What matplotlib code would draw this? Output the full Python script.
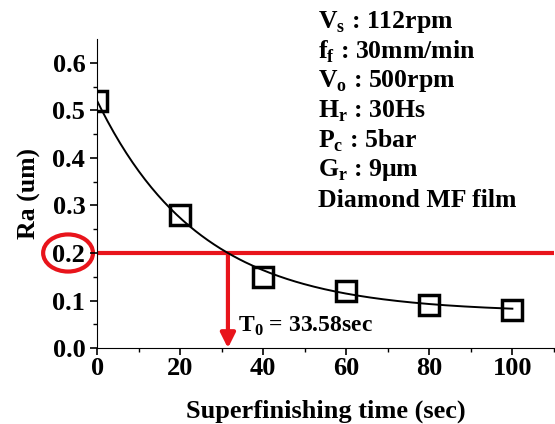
import numpy as np
import matplotlib
matplotlib.use("Agg")
import matplotlib.pyplot as plt
from matplotlib.patches import Ellipse

plt.rcParams['font.family'] = ['Liberation Serif', 'DejaVu Serif']
plt.rcParams['font.weight'] = 'bold'
RED = "#e8141b"

# data
t = [0, 20, 40, 60, 80, 100]
ra = [0.52, 0.28, 0.15, 0.12, 0.09, 0.08]
# exponential fit y = y0 + A*exp(-t/tau)
Y0, A, TAU = 0.075, 0.445, 24.8
RA_LIM = 0.2
T0 = 31.5
conds = [r"V$_\mathregular{s}$ : 112rpm", r"f$_\mathregular{f}$ : 30mm/min",
         r"V$_\mathregular{o}$ : 500rpm", r"H$_\mathregular{r}$ : 30Hs",
         r"P$_\mathregular{c}$ : 5bar", r"G$_\mathregular{r}$ : 9μm", "Diamond MF film"]

fig = plt.figure(figsize=(5.55, 4.24), dpi=100)
ax = fig.add_axes([0.175, 0.179, 0.823, 0.729])
tt = np.linspace(0, 100, 200)
ax.plot(tt, Y0 + A*np.exp(-tt/TAU), color='k', lw=1.4, zorder=3)
ax.plot(t, ra, ls='none', marker='s', ms=15, mfc='none', mec='k', mew=2.5, zorder=4)

ax.axhline(RA_LIM, color=RED, lw=3, zorder=2)
ax.annotate("", xy=(T0, 0.0), xytext=(T0, RA_LIM),
            arrowprops=dict(arrowstyle='-|>', color=RED, lw=3, mutation_scale=22,
                            shrinkA=0, shrinkB=0), zorder=2)
ax.text(T0+2.5, 0.045, r"T$_\mathregular{0}$ = 33.58sec", fontsize=17, fontweight='bold', va='center')

ax.set_xlim(0, 110); ax.set_ylim(0, 0.65)
ax.set_xticks([0, 20, 40, 60, 80, 100])
ax.set_xticks(np.arange(10, 111, 20), minor=True)
ax.set_yticks(np.arange(0, 0.61, 0.1))
ax.set_yticks(np.arange(0.05, 0.65, 0.1), minor=True)
ax.set_yticklabels([f"{v:.1f}" for v in np.arange(0, 0.61, 0.1)])
for s in ['top', 'right']:
    ax.spines[s].set_visible(False)
ax.tick_params(which='major', length=5, width=1.2, labelsize=19, direction='out')
ax.tick_params(which='minor', length=3, width=1, direction='out')
ax.tick_params(axis='x', which='major', pad=1.5)
ax.set_xlabel("Superfinishing time (sec)", fontsize=19, fontweight='bold', labelpad=14)
ax.set_ylabel("Ra (um)", fontsize=18.5, fontweight='bold', labelpad=8)

ax.add_patch(Ellipse((-7, RA_LIM), 12, 0.078, fill=False, ec=RED, lw=3, clip_on=False))

for i, s in enumerate(conds):
    fig.text(0.573, 0.948 - i*0.070, s, fontsize=18.5, fontweight='bold', va='center')

fig.savefig("out.png", dpi=100)
